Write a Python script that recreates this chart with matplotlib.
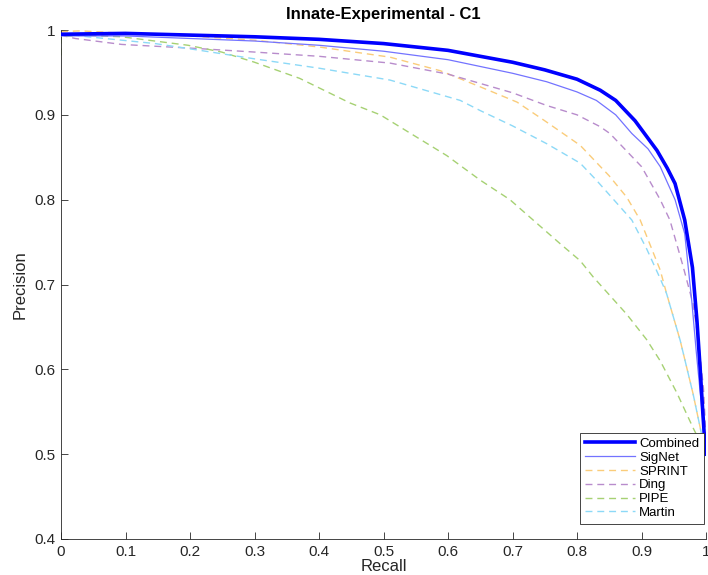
import numpy as np
import matplotlib
matplotlib.use('Agg')
import matplotlib.pyplot as plt

plt.rcParams['font.family'] = ['Liberation Sans', 'DejaVu Sans']

# precision-recall curves
combined_r = [0, 0.1, 0.2, 0.3, 0.4, 0.5, 0.6, 0.65, 0.7, 0.75, 0.8, 0.836, 0.86, 0.89, 0.924,
              0.94, 0.952, 0.967, 0.979, 0.986, 0.991, 0.995, 0.998, 1.0]
combined_p = [0.995, 0.996, 0.994, 0.992, 0.989, 0.984, 0.976, 0.969, 0.962, 0.953, 0.942, 0.929, 0.917,
              0.893, 0.858, 0.837, 0.819, 0.776, 0.72, 0.657, 0.60, 0.55, 0.515, 0.50]

signet_r = [0, 0.1, 0.2, 0.3, 0.4, 0.5, 0.6, 0.65, 0.7, 0.753, 0.8, 0.83, 0.86, 0.885, 0.91, 0.929,
            0.952, 0.967, 0.978, 0.985, 0.992, 0.997, 1.0]
signet_p = [0.993, 0.993, 0.99, 0.987, 0.982, 0.975, 0.965, 0.957, 0.949, 0.939, 0.927, 0.917, 0.9,
            0.878, 0.86, 0.839, 0.80, 0.76, 0.68, 0.62, 0.565, 0.525, 0.50]

sprint_r = [0, 0.03, 0.1, 0.2, 0.3, 0.4, 0.51, 0.588, 0.65, 0.707, 0.75, 0.805, 0.85, 0.877, 0.898,
            0.929, 0.939, 0.96, 0.98, 0.993, 1.0]
sprint_p = [0.998, 0.999, 0.996, 0.993, 0.988, 0.980, 0.968, 0.952, 0.933, 0.915, 0.893, 0.864, 0.828,
            0.803, 0.776, 0.717, 0.689, 0.634, 0.571, 0.524, 0.505]

ding_r = [0, 0.005, 0.022, 0.094, 0.2155, 0.3, 0.4, 0.51, 0.6, 0.65, 0.7, 0.753, 0.8, 0.836, 0.851,
          0.9, 0.929, 0.944, 0.965, 0.98, 0.989, 0.996, 1.0]
ding_p = [0.995, 0.993, 0.990, 0.983, 0.978, 0.974, 0.969, 0.961, 0.948, 0.937, 0.926, 0.911, 0.9,
          0.886, 0.878, 0.839, 0.80, 0.776, 0.72, 0.677, 0.63, 0.578, 0.52]

pipe_r = [0, 0, 0.03, 0.094, 0.197, 0.249, 0.3, 0.37, 0.448, 0.495, 0.598, 0.65, 0.696, 0.774, 0.805,
          0.825, 0.877, 0.908, 0.929, 0.955, 0.98, 0.995, 1.0]
pipe_p = [0.97, 0.992, 0.994, 0.992, 0.982, 0.974, 0.962, 0.943, 0.914, 0.90, 0.852, 0.823, 0.80, 0.748,
          0.728, 0.709, 0.665, 0.635, 0.61, 0.572, 0.531, 0.508, 0.502]

martin_r = [0, 0.042, 0.146, 0.2155, 0.3, 0.4, 0.51, 0.619, 0.65, 0.7, 0.753, 0.805, 0.83, 0.885,
            0.908, 0.929, 0.939, 0.96, 0.98, 0.993, 1.0]
martin_p = [0.996, 0.992, 0.984, 0.976, 0.966, 0.955, 0.941, 0.917, 0.905, 0.887, 0.866, 0.843, 0.823,
            0.776, 0.742, 0.707, 0.689, 0.634, 0.571, 0.524, 0.505]

fig = plt.figure(figsize=(7.08, 5.75), dpi=100)
ax = fig.add_axes([61 / 708, 36 / 575, 645 / 708, 509 / 575])

dash = (0, (5, 3.5))
ax.plot(combined_r, combined_p, color=(0, 0, 1), lw=2.6, label='Combined', zorder=5)
ax.plot(signet_r, signet_p, color=(0.45, 0.45, 1), lw=0.9, label='SigNet', zorder=4)
ax.plot(sprint_r, sprint_p, color=(0.98, 0.80, 0.48), lw=1.0, ls=dash, label='SPRINT')
ax.plot(ding_r, ding_p, color=(0.72, 0.55, 0.80), lw=1.0, ls=dash, label='Ding')
ax.plot(pipe_r, pipe_p, color=(0.65, 0.82, 0.45), lw=1.0, ls=dash, label='PIPE')
ax.plot(martin_r, martin_p, color=(0.55, 0.85, 0.97), lw=1.0, ls=dash, label='Martin')

ax.set_xlim(0, 1)
ax.set_ylim(0.4, 1)
ax.set_xticks(np.arange(0, 1.01, 0.1))
ax.set_yticks(np.arange(0.4, 1.01, 0.1))
ax.set_xticklabels(['0', '0.1', '0.2', '0.3', '0.4', '0.5', '0.6', '0.7', '0.8', '0.9', '1'])
ax.set_yticklabels(['0.4', '0.5', '0.6', '0.7', '0.8', '0.9', '1'])
ax.tick_params(direction='in', length=5, width=0.6, labelsize=11, colors='#262626', pad=4)
for side in ['top', 'right']:
    ax.spines[side].set_visible(False)
for side in ['left', 'bottom']:
    ax.spines[side].set_color('#262626')
    ax.spines[side].set_linewidth(0.6)

ax.set_xlabel('Recall', fontsize=12, color='#262626', labelpad=0)
ax.set_ylabel('Precision', fontsize=12, color='#262626', labelpad=5)
ax.set_title('Innate-Experimental - C1', fontsize=12, fontweight='bold', pad=8)

leg = ax.legend(loc='lower right', fontsize=9.5, handlelength=3.8, handletextpad=0.35,
                labelspacing=0.12, borderpad=0.35, borderaxespad=0, fancybox=False,
                framealpha=1, edgecolor='#262626', bbox_to_anchor=(0.997, 0.03))
leg.get_frame().set_linewidth(0.6)

fig.savefig('out.png', dpi=100)
